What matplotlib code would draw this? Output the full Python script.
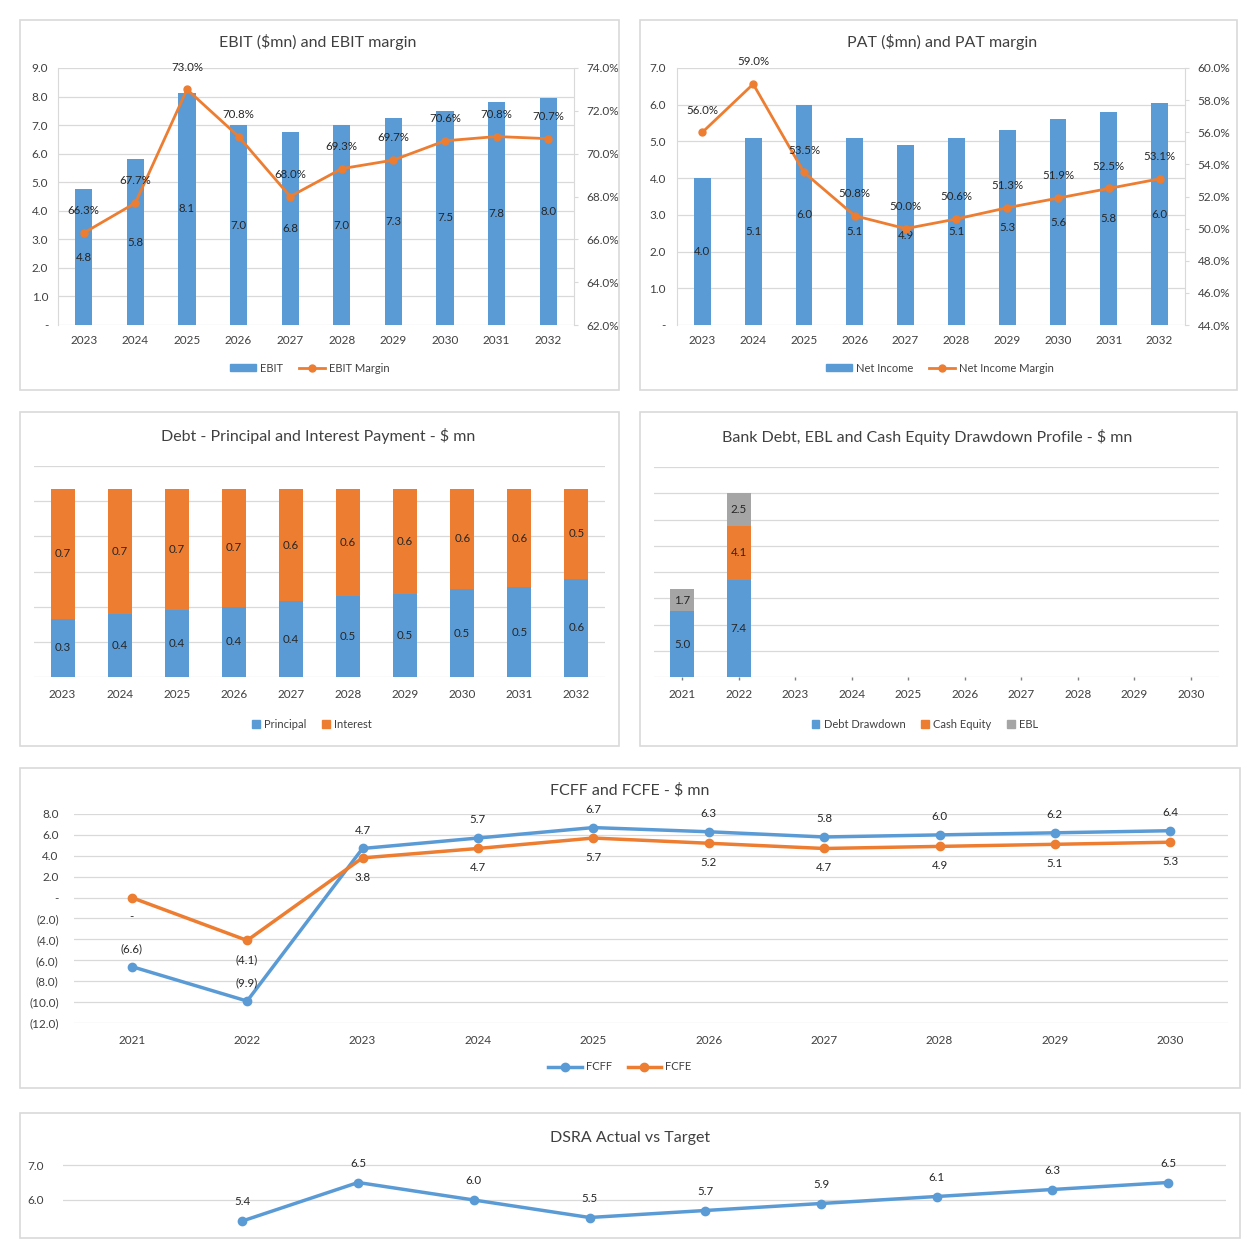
import numpy as np
import matplotlib
matplotlib.use("Agg")
import matplotlib.pyplot as plt
from matplotlib.patches import Rectangle, Patch
from matplotlib.lines import Line2D
from matplotlib.ticker import FuncFormatter

plt.rcParams['font.family'] = ['Lato', 'DejaVu Sans']

# ---- data ----
years_op = [str(y) for y in range(2023, 2033)]
ebit = [4.76, 5.8, 8.14, 7.0, 6.76, 7.0, 7.26, 7.5, 7.8, 7.96]
ebit_margin = [66.3, 67.7, 73.0, 70.8, 68.0, 69.3, 69.7, 70.6, 70.8, 70.7]
net_income = [4.0, 5.1, 6.0, 5.1, 4.9, 5.1, 5.3, 5.6, 5.8, 6.04]
ni_margin = [56.0, 59.0, 53.5, 50.8, 50.0, 50.6, 51.3, 51.9, 52.5, 53.1]
principal = [0.33, 0.36, 0.38, 0.40, 0.43, 0.46, 0.47, 0.50, 0.51, 0.56]
interest = [0.74, 0.71, 0.69, 0.67, 0.64, 0.61, 0.60, 0.57, 0.56, 0.51]

years_cf = [str(y) for y in range(2021, 2031)]
debt_draw = [5.0, 7.4, 0, 0, 0, 0, 0, 0, 0, 0]
cash_equity = [0, 4.1, 0, 0, 0, 0, 0, 0, 0, 0]
ebl = [1.7, 2.5, 0, 0, 0, 0, 0, 0, 0, 0]
fcff = [-6.6, -9.9, 4.7, 5.7, 6.7, 6.3, 5.8, 6.0, 6.2, 6.4]
fcfe = [0.0, -4.1, 3.8, 4.7, 5.7, 5.2, 4.7, 4.9, 5.1, 5.3]
dsra = [np.nan, 5.4, 6.5, 6.0, 5.5, 5.7, 5.9, 6.1, 6.3, 6.5]

W = H = 1254
BLUE, ORANGE, GREY = '#5b9bd5', '#ed7d31', '#a5a5a5'
TXT, GRID = '#404040', '#d9d9d9'
LBL = 8.3

fig = plt.figure(figsize=(12.54, 12.54), dpi=100)


def box(l, t, r, b):
    return [l / W, 1 - b / H, (r - l) / W, (b - t) / H]


def panel(l, t, r, b):
    fig.patches.append(Rectangle((l / W, 1 - b / H), (r - l) / W, (b - t) / H,
                                 transform=fig.transFigure, fill=False,
                                 edgecolor=GRID, lw=1.2))


def title(x, y, s):
    fig.text(x / W, 1 - y / H, s, ha='center', va='center', fontsize=11.5, color=TXT)


def num(v, pos=None):
    if abs(v) < 1e-9:
        return '-'
    if v < 0:
        return f'({-v:.1f})'
    return f'{v:.1f}'


def style(ax, pad_y=6, pad_x=7):
    for s in ax.spines.values():
        s.set_visible(False)
    ax.grid(axis='y', color=GRID, lw=0.9)
    ax.set_axisbelow(True)
    ax.tick_params(length=0, labelsize=8.5, colors=TXT)
    ax.tick_params(axis='y', pad=pad_y)
    ax.tick_params(axis='x', pad=pad_x)


def legend(x, y, handles, labels, **kw):
    fig.legend(handles, labels, loc='center', bbox_to_anchor=(x / W, 1 - y / H),
               ncol=len(handles), frameon=False, fontsize=8, labelcolor=TXT,
               handletextpad=0.4, columnspacing=1.4, **kw)


# ---- EBIT panel ----
panel(20, 20, 619, 390)
title(318, 42, 'EBIT ($mn) and EBIT margin')
ax = fig.add_axes(box(58, 68, 574, 325))
style(ax, pad_y=7)
x = np.arange(len(years_op))
ax.bar(x, ebit, 0.33, color=BLUE)
for i, v in enumerate(ebit):
    ax.text(i, v / 2, f'{v:.1f}', ha='center', va='center', fontsize=LBL, color='#262626')
ax.set_xlim(-0.5, 9.5)
ax.set_ylim(0, 9)
ax.set_yticks(np.arange(0, 9.1, 1))
ax.yaxis.set_major_formatter(FuncFormatter(num))
ax.set_xticks(x, years_op)
ax.spines['left'].set_visible(True)
ax.spines['left'].set_color(GRID)
ax2 = ax.twinx()
for s in ax2.spines.values():
    s.set_visible(False)
ax2.spines['right'].set_visible(True)
ax2.spines['right'].set_color(GRID)
ax2.plot(x, ebit_margin, color=ORANGE, lw=2, marker='o', ms=5)
for i, m in enumerate(ebit_margin):
    ax2.annotate(f'{m:.1f}%', (i, m), xytext=(0, 16), textcoords='offset points',
                 ha='center', va='center', fontsize=LBL, color='#262626')
ax2.set_ylim(62, 74)
ax2.set_yticks(np.arange(62, 74.1, 2))
ax2.yaxis.set_major_formatter(FuncFormatter(lambda v, p: f'{v:.1f}%'))
ax2.tick_params(length=3, color=GRID, labelsize=8.5, colors=TXT, pad=6)
legend(310, 368, [Patch(color=BLUE), Line2D([], [], color=ORANGE, lw=2, marker='o', ms=5)],
       ['EBIT', 'EBIT Margin'], handlelength=2.3, handleheight=0.5)

# ---- PAT panel ----
panel(640, 20, 1237, 390)
title(942, 42, 'PAT ($mn) and PAT margin')
ax = fig.add_axes(box(677, 68, 1185, 325))
style(ax, pad_y=8)
ax.bar(x, net_income, 0.33, color=BLUE)
for i, v in enumerate(net_income):
    ax.text(i, v / 2, f'{v:.1f}', ha='center', va='center', fontsize=LBL, color='#262626')
ax.set_xlim(-0.5, 9.5)
ax.set_ylim(0, 7)
ax.set_yticks(np.arange(0, 7.1, 1))
ax.yaxis.set_major_formatter(FuncFormatter(num))
ax.set_xticks(x, years_op)
ax.spines['left'].set_visible(True)
ax.spines['left'].set_color(GRID)
ax2 = ax.twinx()
for s in ax2.spines.values():
    s.set_visible(False)
ax2.spines['right'].set_visible(True)
ax2.spines['right'].set_color(GRID)
ax2.plot(x, ni_margin, color=ORANGE, lw=2, marker='o', ms=5)
for i, m in enumerate(ni_margin):
    ax2.annotate(f'{m:.1f}%', (i, m), xytext=(0, 16), textcoords='offset points',
                 ha='center', va='center', fontsize=LBL, color='#262626')
ax2.set_ylim(44, 60)
ax2.set_yticks(np.arange(44, 60.1, 2))
ax2.yaxis.set_major_formatter(FuncFormatter(lambda v, p: f'{v:.1f}%'))
ax2.tick_params(length=3, color=GRID, labelsize=8.5, colors=TXT, pad=6)
legend(940, 368, [Patch(color=BLUE), Line2D([], [], color=ORANGE, lw=2, marker='o', ms=5)],
       ['Net Income', 'Net Income Margin'], handlelength=2.3, handleheight=0.5)

# ---- Debt principal / interest ----
panel(20, 412, 619, 746)
title(318, 436, 'Debt - Principal and Interest Payment - $ mn')
ax = fig.add_axes(box(34, 466, 605, 677))
style(ax, pad_x=9)
ax.bar(x, principal, 0.42, color=BLUE)
ax.bar(x, interest, 0.42, bottom=principal, color=ORANGE)
for i in range(len(x)):
    ax.text(i, principal[i] / 2, f'{principal[i]:.1f}', ha='center', va='center',
            fontsize=LBL, color='#262626')
    ax.text(i, principal[i] + interest[i] / 2, f'{interest[i]:.1f}', ha='center', va='center',
            fontsize=LBL, color='#262626')
ax.set_xlim(-0.5, 9.5)
ax.set_ylim(0, 1.2)
ax.set_yticks(np.arange(0, 1.21, 0.2))
ax.set_yticklabels([])
ax.set_xticks(x, years_op)
legend(312, 724, [Patch(color=BLUE), Patch(color=ORANGE)], ['Principal', 'Interest'],
       handlelength=0.7, handleheight=0.7)

# ---- Bank debt / EBL / cash equity ----
panel(640, 412, 1237, 746)
title(927, 437, 'Bank Debt, EBL and Cash Equity Drawdown Profile - $ mn')
ax = fig.add_axes(box(654, 467, 1219, 677))
style(ax, pad_x=9)
xc = np.arange(len(years_cf))
bottom2 = np.array(debt_draw) + np.array(cash_equity)
ax.bar(xc, debt_draw, 0.43, color=BLUE)
ax.bar(xc, cash_equity, 0.43, bottom=debt_draw, color=ORANGE)
ax.bar(xc, ebl, 0.43, bottom=bottom2, color=GREY)
for i in range(len(xc)):
    base = 0
    for v in (debt_draw[i], cash_equity[i], ebl[i]):
        if v > 0:
            ax.text(i, base + v / 2, f'{v:.1f}', ha='center', va='center',
                    fontsize=LBL, color='#262626')
        base += v
ax.set_xlim(-0.5, 9.5)
ax.set_ylim(0, 16)
ax.set_yticks(np.arange(0, 16.1, 2))
ax.set_yticklabels([])
ax.set_xticks(xc, years_cf)
ax.tick_params(axis='x', length=2.5, width=1, color='#7f7f7f', pad=6)
legend(925, 724, [Patch(color=BLUE), Patch(color=ORANGE), Patch(color=GREY)],
       ['Debt Drawdown', 'Cash Equity', 'EBL'], handlelength=0.7, handleheight=0.7)

# ---- FCFF / FCFE ----
panel(20, 768, 1240, 1088)
title(630, 790, 'FCFF and FCFE - $ mn')
ax = fig.add_axes(box(74, 814, 1228, 1023))
style(ax, pad_y=11, pad_x=9)
ax.plot(xc, fcff, color=BLUE, lw=2.5, marker='o', ms=6)
ax.plot(xc, fcfe, color=ORANGE, lw=2.5, marker='o', ms=6)
for i in range(len(xc)):
    ax.annotate(num(fcff[i]), (i, fcff[i]), xytext=(0, 13), textcoords='offset points',
                ha='center', va='center', fontsize=LBL, color='#262626')
    ax.annotate(num(fcfe[i]), (i, fcfe[i]), xytext=(0, -14), textcoords='offset points',
                ha='center', va='center', fontsize=LBL, color='#262626')
ax.set_xlim(-0.5, 9.5)
ax.set_ylim(-12, 8)
ax.set_yticks(np.arange(-12, 8.1, 2))
ax.yaxis.set_major_formatter(FuncFormatter(num))
ax.set_xticks(xc, years_cf)
legend(620, 1067, [Line2D([], [], color=BLUE, lw=2.5, marker='o', ms=6),
                   Line2D([], [], color=ORANGE, lw=2.5, marker='o', ms=6)],
       ['FCFF', 'FCFE'], handlelength=3)

# ---- DSRA ----
panel(20, 1113, 1240, 1238)
title(630, 1138, 'DSRA Actual vs Target')
ax = fig.add_axes(box(63, 1155, 1226, 1254))
style(ax, pad_y=14)
ax.plot(xc, dsra, color=BLUE, lw=2.5, marker='o', ms=6)
for i, v in enumerate(dsra):
    if not np.isnan(v):
        ax.annotate(f'{v:.1f}', (i, v), xytext=(0, 14), textcoords='offset points',
                    ha='center', va='center', fontsize=LBL, color='#262626')
ax.set_xlim(-0.55, 9.5)
ax.set_ylim(6.0 - 54 / 35, 7.0 + 10 / 35)
ax.set_yticks([6.0, 7.0])
ax.yaxis.set_major_formatter(FuncFormatter(num))
ax.set_xticks([])

fig.savefig('out.png', dpi=100, facecolor='white')
